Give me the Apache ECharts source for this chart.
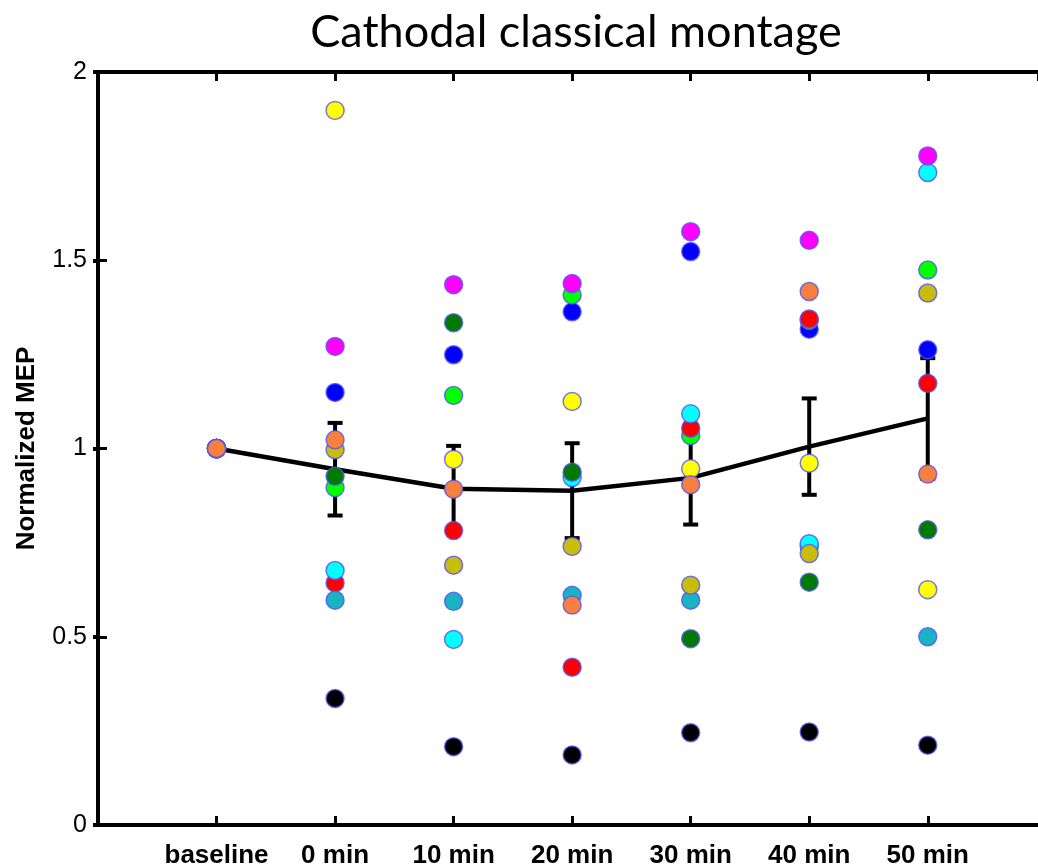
<!DOCTYPE html>
<html>
<head>
<meta charset="utf-8">
<script src="https://cdn.jsdelivr.net/npm/echarts@6/dist/echarts.min.js"></script>
<style>
  html, body { margin: 0; padding: 0; background: #ffffff; }
  #chart { width: 1038px; height: 868px; }
</style>
</head>
<body>
<div id="chart"></div>
<script>
// Time points along the x axis
const timeLabels = ['baseline', '0 min', '10 min', '20 min', '30 min', '40 min', '50 min'];

// Normalized MEP per subject at each time point
const subjYellow    = [1, 1.898, 0.971, 1.125, 0.946, 0.961, 0.625];
const subjMagenta   = [1, 1.271, 1.435, 1.438, 1.576, 1.553, 1.777];
const subjBlue      = [1, 1.149, 1.249, 1.363, 1.523, 1.317, 1.262];
const subjOrange    = [1, 1.023, 0.892, 0.584, 0.904, 1.417, 0.932];
const subjOlive     = [1, 0.997, 0.690, 0.740, 0.637, 0.721, 1.413];
const subjDarkGreen = [1, 0.926, 1.334, 0.937, 0.495, 0.645, 0.784];
const subjGreen     = [1, 0.896, 1.141, 1.408, 1.034, 1.340, 1.474];
const subjCyan      = [1, 0.676, 0.493, 0.923, 1.092, 0.747, 1.733];
const subjRed       = [1, 0.643, 0.782, 0.419, 1.054, 1.344, 1.173];
const subjTeal      = [1, 0.597, 0.594, 0.610, 0.597, 0.740, 0.500];
const subjBlack     = [1, 0.336, 0.208, 0.186, 0.245, 0.247, 0.212];

// Group mean and standard error
const groupMean = [1.000, 0.945, 0.893, 0.888, 0.922, 1.005, 1.080];
const groupSem  = [0, 0.123, 0.114, 0.126, 0.124, 0.128, 0.160];

// Y tick labels
const yTickLabels = ['0', '0.5', '1', '1.5', '2'];

// Drawing order: later entries sit on top
const subjects = [
  { values: subjBlue,      color: '#0000ff' },
  { values: subjGreen,     color: '#00ff00' },
  { values: subjRed,       color: '#ff0000' },
  { values: subjTeal,      color: '#19b4c2' },
  { values: subjCyan,      color: '#00ffff' },
  { values: subjDarkGreen, color: '#007a00' },
  { values: subjOlive,     color: '#c8bd0a' },
  { values: subjMagenta,   color: '#ff00ff' },
  { values: subjYellow,    color: '#ffff00' },
  { values: subjBlack,     color: '#000000' },
  { values: subjOrange,    color: '#f8803e' }
];

const chart = echarts.init(document.getElementById('chart'), null, { renderer: 'canvas' });

const axisLineStyle = { color: '#000', width: 4 };
const tickStyle = { show: true, inside: true, length: 9, lineStyle: { color: '#000', width: 3 } };

const scatterSeries = subjects.map(s => ({
  type: 'scatter',
  symbol: 'circle',
  symbolSize: 18,
  z: 5,
  itemStyle: { color: s.color, borderColor: 'rgba(85,85,240,0.8)', borderWidth: 1.5, opacity: 1 },
  data: s.values.map((v, i) => [i + 1, v]),
  silent: true
}));

const errorData = groupMean.map((m, i) => [i + 1, m, groupSem[i]]).filter(d => d[2] > 0);

// The frame runs past the right edge of the page; the x range ends where the page ends
const xMax = 7.93;

const option = {
  animation: false,
  backgroundColor: '#ffffff',
  title: {
    text: 'Cathodal classical montage',
    left: 571,
    top: 5,
    textAlign: 'center',
    textStyle: { fontFamily: 'Lato', fontSize: 45, fontWeight: 'normal', color: '#000' }
  },
  grid: { left: 98, right: 0, top: 72, bottom: 43, containLabel: false, outerBoundsMode: 'none' },
  xAxis: [
    {
      type: 'value', position: 'bottom', min: 0, max: xMax, interval: 1,
      axisLine: { show: true, onZero: false, lineStyle: axisLineStyle },
      axisTick: tickStyle,
      splitLine: { show: false },
      axisLabel: {
        fontFamily: 'Liberation Sans', fontSize: 26, fontWeight: 'bold', color: '#000', margin: 18,
        showMaxLabel: false,
        formatter: v => (v >= 1 && v <= timeLabels.length) ? timeLabels[v - 1] : ''
      }
    },
    {
      type: 'value', position: 'top', min: 0, max: xMax, interval: 1,
      axisLine: { show: true, onZero: false, lineStyle: axisLineStyle },
      axisTick: tickStyle,
      splitLine: { show: false },
      axisLabel: { show: false }
    }
  ],
  yAxis: [
    {
      type: 'value', position: 'left', min: 0, max: 2, interval: 0.5,
      name: 'Normalized MEP', nameLocation: 'middle', nameGap: 58, nameRotate: 90,
      nameTextStyle: { fontFamily: 'Liberation Sans', fontSize: 26, fontWeight: 'bold', color: '#000' },
      axisLine: { show: true, onZero: false, lineStyle: axisLineStyle },
      axisTick: tickStyle,
      splitLine: { show: false },
      axisLabel: {
        fontFamily: 'Liberation Sans', fontSize: 25, color: '#000', margin: 11,
        formatter: v => yTickLabels[Math.round(v / 0.5)]
      }
    },
    {
      type: 'value', position: 'right', min: 0, max: 2, interval: 0.5,
      axisLine: { show: false },
      axisTick: { show: true, inside: true, length: 5, lineStyle: { color: '#000', width: 4 } },
      splitLine: { show: false },
      axisLabel: { show: false }
    }
  ],
  series: [
    {
      type: 'custom',
      z: 3,
      silent: true,
      renderItem: (params, api) => {
        const x = api.value(0), m = api.value(1), e = api.value(2);
        const top = api.coord([x, m + e]);
        const bot = api.coord([x, m - e]);
        const half = 7.5;
        const style = { stroke: '#000', lineWidth: 4, fill: null };
        return {
          type: 'group',
          children: [
            { type: 'line', shape: { x1: top[0], y1: top[1], x2: bot[0], y2: bot[1] }, style },
            { type: 'line', shape: { x1: top[0] - half, y1: top[1], x2: top[0] + half, y2: top[1] }, style },
            { type: 'line', shape: { x1: bot[0] - half, y1: bot[1], x2: bot[0] + half, y2: bot[1] }, style }
          ]
        };
      },
      data: errorData
    },
    {
      type: 'line',
      z: 3,
      silent: true,
      symbol: 'none',
      lineStyle: { color: '#000', width: 4.5 },
      data: groupMean.map((m, i) => [i + 1, m])
    },
    ...scatterSeries
  ]
};

chart.setOption(option);
</script>
</body>
</html>
